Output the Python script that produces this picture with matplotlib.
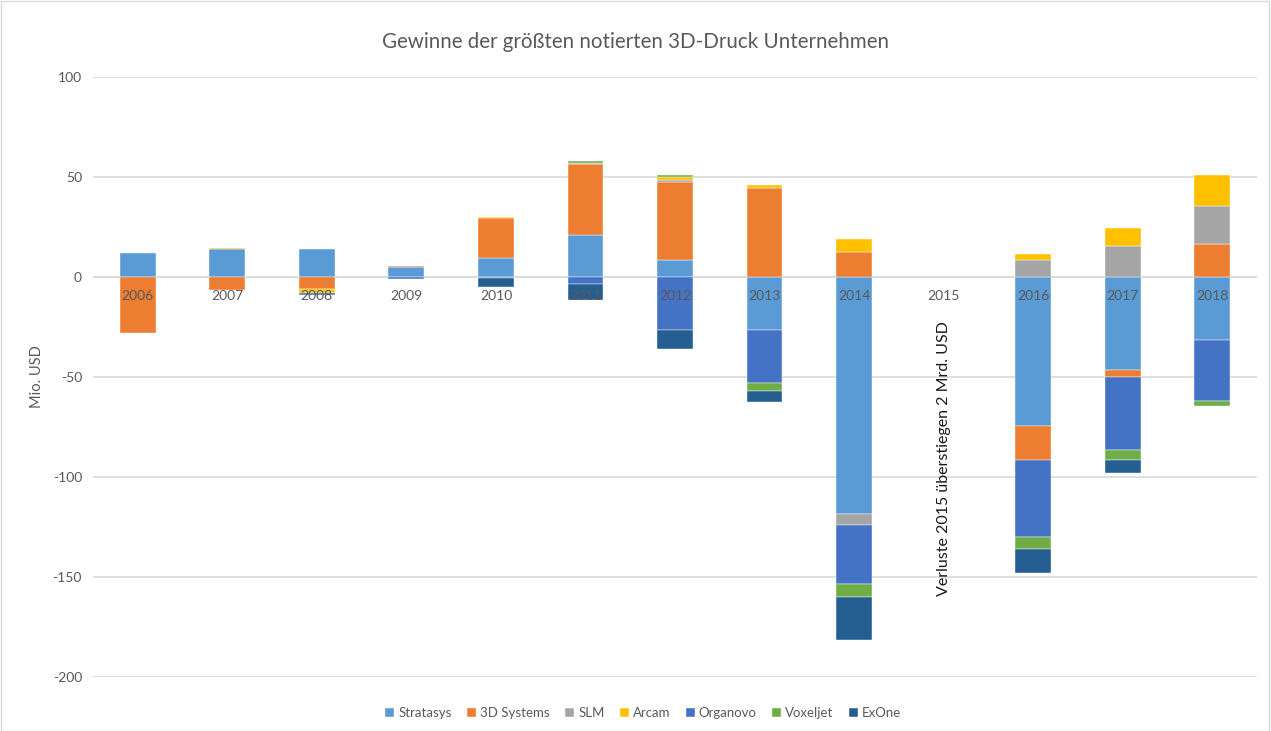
"""
Gewinne der groessten notierten 3D-Druck Unternehmen
"""

import numpy as np
import matplotlib.pyplot as plt
from matplotlib.patches import Rectangle

# Data (Mio. USD)
years = ['2006', '2007', '2008', '2009', '2010', '2011', '2012',
         '2013', '2014', '2015', '2016', '2017', '2018']

stratasys = [11.8, 14.0, 14.0, 4.8, 9.3, 21.2, 8.7, -26.7, -118.7, 0, -74.5, -46.7, -31.5]
systems_3d = [-28.0, -6.7, -5.8, 0.7, 20.0, 35.3, 39.0, 44.5, 12.5, 0, -17.0, -3.3, 16.5]
slm = [0, 0, 0, 0, 0, 0.5, 0.8, 0, -5.5, 0, 8.5, 15.7, 19.2]
arcam = [0, 0.7, -2.3, 0, 0.6, 0, 1.3, 1.5, 6.3, 0, 3.0, 8.8, 15.2]
organovo = [0, 0, -0.7, -1.0, -0.5, -3.5, -26.7, -26.5, -29.5, 0, -38.5, -36.7, -30.5]
voxeljet = [0, 0, 0, 0, 0, 0.8, 1.0, -4.0, -6.5, 0, -6.0, -4.8, -2.3]
exone = [0, 0, 0, 0, -4.3, -8.0, -9.5, -5.5, -21.3, 0, -12.2, -6.3, 0]

series_names = ['Stratasys', '3D Systems', 'SLM', 'Arcam', 'Organovo', 'Voxeljet', 'ExOne']
series_values = [stratasys, systems_3d, slm, arcam, organovo, voxeljet, exone]
colors = ['#5B9BD5', '#ED7D31', '#A5A5A5', '#FFC000', '#4472C4', '#70AD47', '#255E91']

note = 'Verluste 2015 überstiegen 2 Mrd. USD'


def main():
    plt.rcParams['font.family'] = ['Lato', 'DejaVu Sans']
    plt.rcParams['axes.unicode_minus'] = False
    fig = plt.figure(figsize=(12.71, 7.31), dpi=100)
    ax = fig.add_axes([93 / 1271, 1 - 677 / 731, 1164 / 1271, 600 / 731])

    x = np.arange(len(years))
    pos_bottom = np.zeros(len(years))
    neg_bottom = np.zeros(len(years))

    # Excel-style stacking: positives go up, negatives go down
    for name, vals, col in zip(series_names, series_values, colors):
        vals = np.array(vals, dtype=float)
        bottoms = np.where(vals >= 0, pos_bottom, neg_bottom)
        keep = vals != 0
        ax.bar(x[keep], vals[keep], 0.4, bottom=bottoms[keep], color=col, label=name,
               edgecolor='white', linewidth=0.3, zorder=2)
        pos_bottom += np.where(vals > 0, vals, 0)
        neg_bottom += np.where(vals < 0, vals, 0)

    # Axes styling
    ax.set_xlim(-0.5, len(years) - 0.5)
    ax.set_ylim(-200, 100)
    ax.set_yticks(np.arange(-200, 101, 50))
    ax.yaxis.grid(True, color='#D9D9D9', linewidth=1.2, zorder=0)
    ax.set_axisbelow(True)
    ax.axhline(0, color='#D9D9D9', linewidth=1.2, zorder=1)
    for s in ax.spines.values():
        s.set_visible(False)
    ax.set_xticks([])
    ax.tick_params(axis='y', length=0, labelsize=10, labelcolor='#595959', pad=8)
    ax.set_ylabel('Mio. USD', fontsize=10.5, color='#595959', labelpad=6)

    # Category labels sitting just below the zero line
    for i, yr in enumerate(years):
        ax.text(i, -9.5, yr, ha='center', va='center', fontsize=10,
                color='#595959', zorder=5)

    ax.text(9, -91, note, rotation=90, ha='center', va='center',
            fontsize=11.5, color='#1a1a1a')

    fig.suptitle('Gewinne der größten notierten 3D-Druck Unternehmen',
                 y=1 - 42 / 731, va='center', fontsize=14.8, color='#595959')

    fig.legend(loc='center', bbox_to_anchor=(0.506, 1 - 713 / 731), ncol=7,
               frameon=False, fontsize=9.5, handlelength=0.7, handleheight=0.7,
               handletextpad=0.3, columnspacing=1.15, labelcolor='#595959')

    # Chart area border
    fig.patches.append(Rectangle((0.0005, 0.0005), 0.998, 0.998, transform=fig.transFigure,
                                 fill=False, edgecolor='#D9D9D9', linewidth=1))

    fig.savefig('out.png', dpi=100)


if __name__ == "__main__":
    main()
